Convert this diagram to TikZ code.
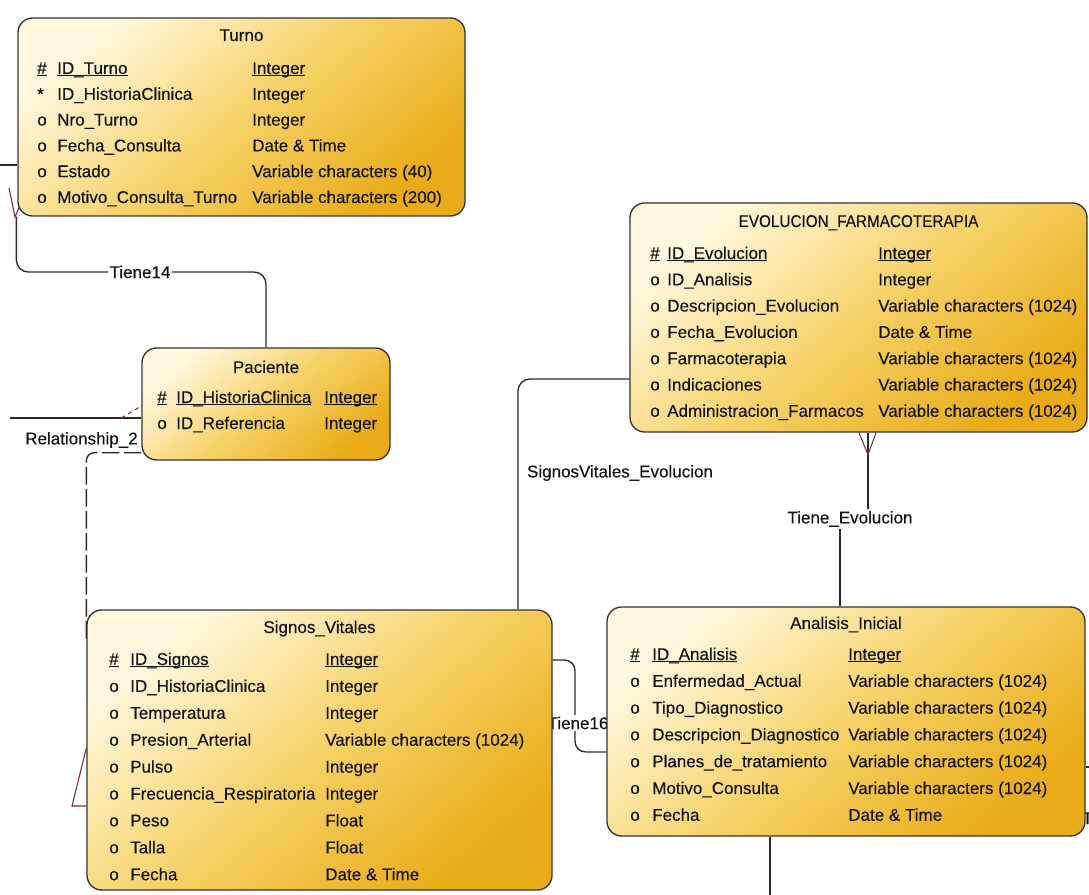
\documentclass[tikz,border=0pt]{standalone}
\usepackage{fontspec}
\setmainfont{Liberation Sans}
\usetikzlibrary{fit,calc}

\definecolor{boxline}{RGB}{58,50,50}
\definecolor{cream}{RGB}{255,248,222}
\definecolor{midgold}{RGB}{246,210,104}
\definecolor{deepgold}{RGB}{233,172,24}
\definecolor{linkline}{RGB}{45,40,40}
\definecolor{footred}{RGB}{125,45,65}
\definecolor{inktext}{RGB}{20,20,20}

% underline sitting just under the baseline
\newsavebox\ulbox
\newcommand\ul[1]{\sbox\ulbox{#1}\rlap{\rule[-1.8pt]{\wd\ulbox}{0.75pt}}\usebox\ulbox}

% primary key row: entity, prefix x, name x, type x, baseline, name, type
\newcommand\keyrow[7]{%
  \node[attr] (#1-p1) at (#2,#5) {\ul{\#}};
  \node[attr] (#1-n1) at (#3,#5) {\ul{#6}};
  \node[attr] (#1-t1) at (#4,#5) {\ul{#7}};}

% remaining rows: entity, prefix x, name x, type x, first baseline, step, list
\newcommand\entityrows[7]{%
  \foreach \pf/\nm/\ty [count=\i from 2] in {#7} {
    \node[attr] (#1-p\i) at (#2,{#5+(\i-1)*#6}) {\pf};
    \node[attr] (#1-n\i) at (#3,{#5+(\i-1)*#6}) {\nm};
    \node[attr] (#1-t\i) at (#4,{#5+(\i-1)*#6}) {\ty};
  }}

\newcommand\diagfont{\fontsize{12.75}{15}\selectfont\addfontfeature{FakeBold=0.25}}

\pgfdeclarelayer{bg}
\pgfdeclarelayer{links}
\pgfsetlayers{bg,links,main}

\begin{document}
\begin{tikzpicture}[x=0.75pt,y=-0.75pt,
  entity/.style={draw=boxline, line width=1pt, rounded corners=11pt, inner sep=0pt,
    top color=cream, bottom color=deepgold, middle color=midgold, shading angle=40},
  attr/.style={anchor=base west, inner sep=0pt, text=inktext, font=\diagfont},
  title/.style={attr, anchor=base},
  link/.style={draw=linkline, line width=1pt},
  relname/.style={font=\diagfont, text=inktext, inner sep=1.5pt},
  foot/.style={draw=footred, line width=0.8pt},
]
\useasboundingbox (0,0) rectangle (1089,895);
\begin{pgfonlayer}{bg}
  \fill[white] (0,0) rectangle (1089,895);
\end{pgfonlayer}
\clip (0,0) rectangle (1089,895);

% ---------- entities ----------
\node[entity, fit={(18,18) (465,216)}] (turno) {};
\node[entity, fit={(142,348) (390,460)}] (paciente) {};
\node[entity, fit={(630,203) (1087,432)}] (evol) {};
\node[entity, fit={(87,610) (552,890)}] (signos) {};
\node[entity, fit={(607,607) (1085,836)}] (analisis) {};

% Turno
\node[title] (turno-title) at (turno.north |- 0,41) {Turno};
\keyrow{turno}{37}{57}{252}{74}{ID\_Turno}{Integer}
\entityrows{turno}{37}{57}{252}{74}{25.8}{
  */ID\_HistoriaClinica/Integer,
  o/Nro\_Turno/Integer,
  o/Fecha\_Consulta/Date \& Time,
  o/Estado/Variable characters (40),
  o/Motivo\_Consulta\_Turno/Variable characters (200)}

% Paciente
\node[title] (paciente-title) at (paciente.north |- 0,373) {Paciente};
\keyrow{paciente}{157}{176}{324}{403}{ID\_HistoriaClinica}{Integer}
\entityrows{paciente}{157}{176}{324}{403}{26}{
  o/ID\_Referencia/Integer}

% EVOLUCION_FARMACOTERAPIA
\node[title] (evol-title) at (evol.north |- 0,227)
  {\addfontfeature{FakeStretch=0.9}EVOLUCION\_FARMACOTERAPIA};
\keyrow{evol}{650}{667}{878}{259}{ID\_Evolucion}{Integer}
\entityrows{evol}{650}{667}{878}{259}{26.3}{
  o/ID\_Analisis/Integer,
  o/Descripcion\_Evolucion/Variable characters (1024),
  o/Fecha\_Evolucion/Date \& Time,
  o/Farmacoterapia/Variable characters (1024),
  o/Indicaciones/Variable characters (1024),
  o/Administracion\_Farmacos/Variable characters (1024)}

% Signos_Vitales
\node[title] (signos-title) at (signos.north |- 0,633) {Signos\_Vitales};
\keyrow{signos}{109}{130}{325}{665}{ID\_Signos}{Integer}
\entityrows{signos}{109}{130}{325}{665}{26.9}{
  o/ID\_HistoriaClinica/Integer,
  o/Temperatura/Integer,
  o/Presion\_Arterial/Variable characters (1024),
  o/Pulso/Integer,
  o/Frecuencia\_Respiratoria/Integer,
  o/Peso/Float,
  o/Talla/Float,
  o/Fecha/Date \& Time}

% Analisis_Inicial
\node[title] (analisis-title) at (analisis.north |- 0,629) {Analisis\_Inicial};
\keyrow{analisis}{630}{652}{848}{660}{ID\_Analisis}{Integer}
\entityrows{analisis}{630}{652}{848}{660}{26.8}{
  o/Enfermedad\_Actual/Variable characters (1024),
  o/Tipo\_Diagnostico/Variable characters (1024),
  o/Descripcion\_Diagnostico/Variable characters (1024),
  o/Planes\_de\_tratamiento/Variable characters (1024),
  o/Motivo\_Consulta/Variable characters (1024),
  o/Fecha/Date \& Time}

% ---------- relationships (under the entities) ----------
\begin{pgfonlayer}{links}
  % Tiene14: Turno -- Paciente
  \coordinate (t14pos) at (140,272);
  \draw[link, rounded corners=9pt] ([xshift=-0.75pt]turno.south west) |- (t14pos) -| (paciente.north);
  \node[relname, fill=white] (t14) at (t14pos) {Tiene14};

  % stub and crow's foot on the left of Turno
  \coordinate (tstub) at (0,165);
  \draw[link] (tstub) -- (tstub -| turno.west);
  \draw[foot] (9,188) -- (15,217) -- (21,203);

  % Relationship_2 into Paciente
  \coordinate (r2end) at (10,418);
  \draw[link] (r2end) -- (r2end -| paciente.west);
  \draw[foot, dashed] ($(r2end -| paciente.west)+(-20,0)$) -- ($(r2end -| paciente.west)+(0,-12)$);
  \node[relname, anchor=west] (rel2) at (23,440) {Relationship\_2};

  % dashed link Paciente -- Signos_Vitales
  \draw[link, dash pattern=on 13pt off 3.5pt, rounded corners=6pt]
    ($(paciente.south west)+(0,-8)$) -| ($(signos.north west)+(0,30)$);
  \draw[foot] ($(signos.west |- 0,748)$) -- (72,806) -- (signos.west |- 0,806);

  % SignosVitales_Evolucion
  \coordinate (sveturn) at (518,379);
  \draw[link, rounded corners=9pt] (signos.north -| sveturn) |- (evol.west |- sveturn);
  \node[relname] (sve) at (620,473) {SignosVitales\_Evolucion};

  % Tiene_Evolucion: EVOLUCION_FARMACOTERAPIA -- Analisis_Inicial
  \coordinate (teupper) at (868,519);
  \coordinate (telower) at (840,519);
  \draw[link] (evol.south -| teupper) -- (teupper) -- (telower) -- (analisis.north -| telower);
  \draw[foot] ($(evol.south -| teupper)+(-9,0)$) -- ($(evol.south -| teupper)+(0,22)$)
              -- ($(evol.south -| teupper)+(8,0)$);
  \node[relname, fill=white] (te) at (850,519) {Tiene\_Evolucion};

  % Tiene16: Signos_Vitales -- Analisis_Inicial
  \coordinate (t16pos) at (575,722);
  \draw[link, rounded corners=8pt] (signos.east |- 0,660) -| (t16pos) |- (analisis.west |- 0,752);
  \node[relname, fill=white] (t16) at (578,723) {Tiene16};

  % links leaving Analisis_Inicial
  \coordinate (aright) at (1089,767);
  \draw[link] (analisis.east |- aright) -- (aright);
  \node[attr] (tright) at (1082,824) {T};
  \coordinate (abottom) at (770,895);
  \draw[link] (analisis.south -| abottom) -- (abottom);
\end{pgfonlayer}
\end{tikzpicture}
\end{document}
